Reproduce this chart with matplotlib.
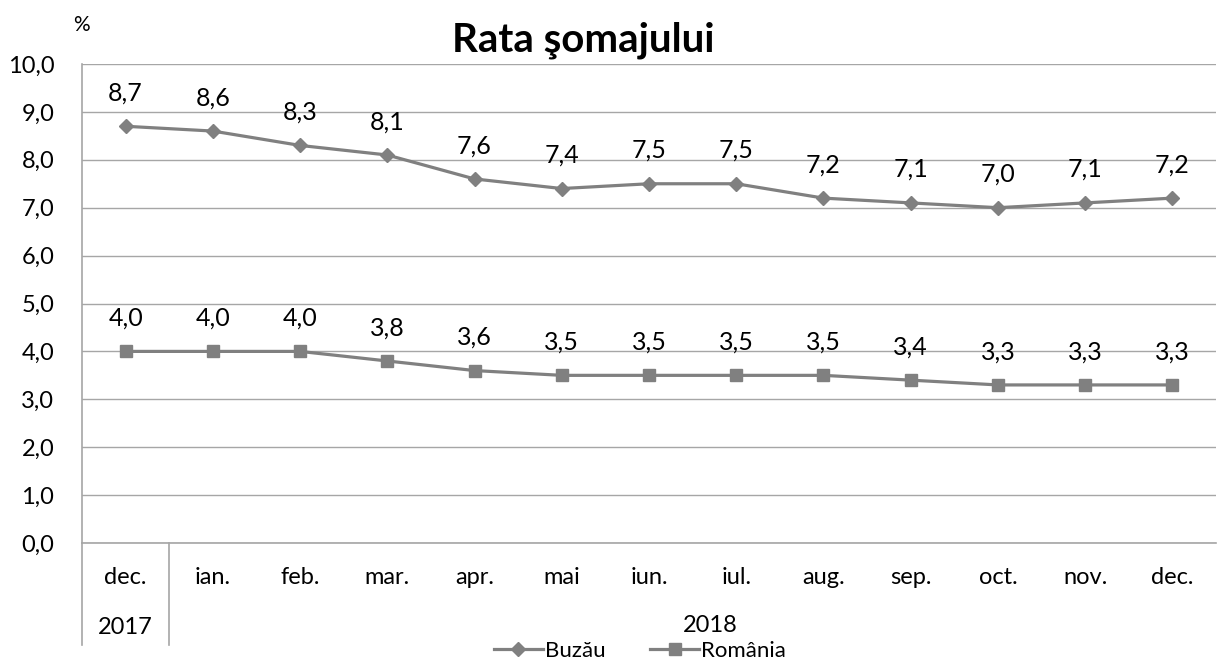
import matplotlib.pyplot as plt
from matplotlib.lines import Line2D

plt.rcParams['font.family'] = ['Lato', 'DejaVu Sans']

months = ['dec.', 'ian.', 'feb.', 'mar.', 'apr.', 'mai', 'iun.', 'iul.',
          'aug.', 'sep.', 'oct.', 'nov.', 'dec.']
years = ['2017', '2018']
buzau = [8.7, 8.6, 8.3, 8.1, 7.6, 7.4, 7.5, 7.5, 7.2, 7.1, 7.0, 7.1, 7.2]
romania = [4.0, 4.0, 4.0, 3.8, 3.6, 3.5, 3.5, 3.5, 3.5, 3.4, 3.3, 3.3, 3.3]
yticks = [0, 1, 2, 3, 4, 5, 6, 7, 8, 9, 10]

gray = '#808080'
grid = '#a6a6a6'
fs = 17

fig = plt.figure(figsize=(12.31, 6.62), dpi=100)
ax = fig.add_axes([82 / 1231, 1 - 543 / 662, (1216 - 82) / 1231, (543 - 64) / 662])

x = list(range(len(months)))
ax.plot(x, buzau, color=gray, lw=2.3, marker='D', ms=7, label='Buzău')
ax.plot(x, romania, color=gray, lw=2.3, marker='s', ms=8, label='România')

for xi, v in zip(x, buzau):
    ax.annotate(f'{v:.1f}'.replace('.', ','), (xi, v), xytext=(0, 24),
                textcoords='offset points', ha='center', va='center', fontsize=fs + 1)
for xi, v in zip(x, romania):
    ax.annotate(f'{v:.1f}'.replace('.', ','), (xi, v), xytext=(0, 24),
                textcoords='offset points', ha='center', va='center', fontsize=fs + 1)

ax.set_xlim(-0.5, len(months) - 0.5)
ax.set_ylim(0, 10)
ax.set_yticks(yticks)
ax.set_yticklabels([f'{t:.1f}'.replace('.', ',') for t in yticks], fontsize=fs)
ax.tick_params(axis='y', length=0, pad=20)
ax.set_xticks([])
ax.grid(axis='y', color=grid, lw=1)
ax.set_axisbelow(True)
for s in ['top', 'right']:
    ax.spines[s].set_visible(False)
for s in ['left', 'bottom']:
    ax.spines[s].set_color(grid)
    ax.spines[s].set_linewidth(1.2)

# two-level category axis
for xi, m in zip(x, months):
    ax.text(xi, -0.72, m, ha='center', va='center', fontsize=fs, clip_on=False)
ax.text(0, -1.77, years[0], ha='center', va='center', fontsize=fs, clip_on=False)
ax.text(6.7, -1.72, years[1], ha='center', va='center', fontsize=fs, clip_on=False)
for xv in [-0.5, 0.5]:
    ax.add_line(Line2D([xv, xv], [0, -2.12], color=grid, lw=1.2, clip_on=False))

fig.text(583 / 1231, 1 - 40 / 662, 'Rata şomajului', ha='center', va='center',
         fontsize=29, fontweight='bold')
fig.text(81 / 1231, 1 - 25 / 662, '%', ha='center', va='center', fontsize=15)

fig.legend(loc='center', bbox_to_anchor=(640 / 1231, 1 - 651 / 662), ncol=2,
           frameon=False, fontsize=16, handlelength=2.2, handletextpad=0.1,
           columnspacing=2.0, borderaxespad=0)

fig.savefig('out.png', dpi=100)
